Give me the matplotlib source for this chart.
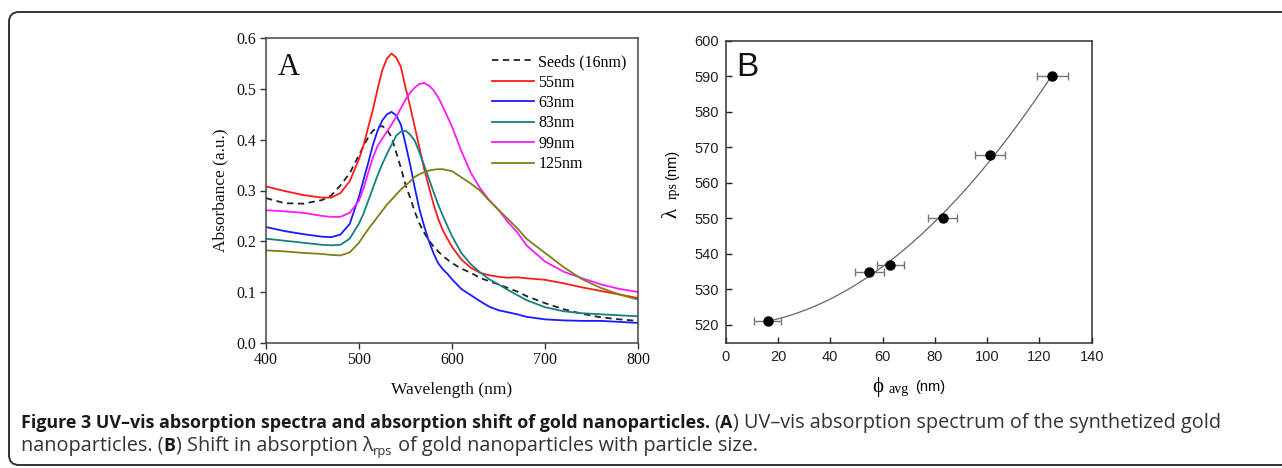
import numpy as np
import matplotlib
matplotlib.use("Agg")
import matplotlib.pyplot as plt
from matplotlib.patches import FancyBboxPatch
from matplotlib.transforms import IdentityTransform

# ---------------- data: panel A (UV-vis spectra) ----------------
wavelength = [400, 420, 440, 460, 470, 480, 490, 500, 505, 510, 515, 520, 525, 530,
              535, 540, 545, 550, 555, 560, 565, 570, 575, 580, 585, 590, 595, 600,
              610, 620, 630, 640, 650, 660, 670, 680, 700, 720, 740, 760, 780, 800]

seeds_16 = [0.285, 0.275, 0.274, 0.281, 0.290, 0.310, 0.334, 0.370, 0.388, 0.405, 0.418,
            0.425, 0.427, 0.420, 0.405, 0.375, 0.345, 0.311, 0.286, 0.258, 0.235, 0.217,
            0.202, 0.190, 0.180, 0.171, 0.164, 0.157, 0.146, 0.138, 0.128, 0.121, 0.115,
            0.108, 0.101, 0.092, 0.078, 0.066, 0.057, 0.050, 0.046, 0.043]
np_55 = [0.308, 0.299, 0.291, 0.286, 0.286, 0.295, 0.318, 0.362, 0.390, 0.425, 0.460,
         0.500, 0.537, 0.560, 0.570, 0.562, 0.544, 0.503, 0.466, 0.425, 0.384, 0.343,
         0.308, 0.274, 0.245, 0.222, 0.205, 0.189, 0.164, 0.148, 0.138, 0.133, 0.130,
         0.128, 0.129, 0.127, 0.124, 0.117, 0.109, 0.102, 0.095, 0.088]
np_63 = [0.228, 0.220, 0.214, 0.209, 0.208, 0.213, 0.234, 0.288, 0.322, 0.355, 0.390,
         0.418, 0.438, 0.450, 0.455, 0.448, 0.430, 0.392, 0.351, 0.305, 0.263, 0.230,
         0.201, 0.177, 0.157, 0.145, 0.136, 0.125, 0.106, 0.094, 0.082, 0.071, 0.064,
         0.060, 0.056, 0.051, 0.046, 0.044, 0.043, 0.043, 0.041, 0.039]
np_83 = [0.205, 0.201, 0.197, 0.193, 0.192, 0.193, 0.205, 0.235, 0.255, 0.280, 0.305,
         0.330, 0.352, 0.372, 0.390, 0.408, 0.416, 0.418, 0.410, 0.398, 0.375, 0.350,
         0.324, 0.298, 0.273, 0.251, 0.230, 0.210, 0.177, 0.155, 0.139, 0.125, 0.115,
         0.104, 0.094, 0.084, 0.070, 0.062, 0.058, 0.056, 0.054, 0.052]
np_99 = [0.261, 0.259, 0.256, 0.250, 0.248, 0.248, 0.256, 0.280, 0.305, 0.336, 0.365,
         0.388, 0.402, 0.416, 0.430, 0.445, 0.462, 0.479, 0.493, 0.503, 0.510, 0.512,
         0.507, 0.498, 0.484, 0.466, 0.446, 0.426, 0.378, 0.336, 0.305, 0.281, 0.262,
         0.238, 0.218, 0.192, 0.160, 0.140, 0.127, 0.115, 0.106, 0.100]
np_125 = [0.182, 0.180, 0.177, 0.175, 0.173, 0.172, 0.178, 0.197, 0.211, 0.224, 0.236,
          0.248, 0.260, 0.272, 0.282, 0.292, 0.302, 0.310, 0.318, 0.327, 0.332, 0.336,
          0.339, 0.341, 0.342, 0.342, 0.340, 0.338, 0.326, 0.314, 0.300, 0.280, 0.262,
          0.244, 0.226, 0.205, 0.177, 0.149, 0.125, 0.108, 0.095, 0.085]

series_labels = ["Seeds (16nm)", "55nm", "63nm", "83nm", "99nm", "125nm"]
series_colors = ["#222222", "#ff1a1a", "#1a1aff", "#158080", "#ff1aff", "#808012"]

# ---------------- data: panel B (peak shift vs size) ----------------
size_avg = [16, 55, 63, 83, 101, 125]
lambda_rps = [521, 535, 537, 550, 568, 590]
size_err = [5.2, 5.5, 5.3, 5.5, 5.8, 6.0]

W, H = 1282, 468
fig = plt.figure(figsize=(W / 100, H / 100), dpi=100)
fig.patch.set_facecolor("white")


def px(x, y):
    return x / W, 1 - y / H


serif = ["Liberation Serif", "DejaVu Serif"]
sans = ["Liberation Sans", "DejaVu Sans"]

# ---------------- panel A ----------------
axA = fig.add_axes([266 / W, 1 - 342.7 / H, 372 / W, 304.4 / H])
all_series = [seeds_16, np_55, np_63, np_83, np_99, np_125]
for i, (vals, lab, col) in enumerate(zip(all_series, series_labels, series_colors)):
    ls = (0, (3.5, 2.5)) if i == 0 else "-"
    axA.plot(wavelength, vals, color=col, lw=1.3, ls=ls, label=lab,
             solid_joinstyle="round")
axA.set_xlim(400, 800)
axA.set_ylim(0, 0.6)
axA.set_xticks([400, 500, 600, 700, 800])
axA.set_yticks([0.0, 0.1, 0.2, 0.3, 0.4, 0.5, 0.6])
axA.set_yticklabels([f"{v:.1f}" for v in [0.0, 0.1, 0.2, 0.3, 0.4, 0.5, 0.6]])
axA.tick_params(direction="out", length=4, width=1, colors="#333333", labelsize=11.5,
                labelcolor="#111111", pad=3)
for lab in axA.get_xticklabels() + axA.get_yticklabels():
    lab.set_family(serif)
for sp in axA.spines.values():
    sp.set_color("#444444")
    sp.set_linewidth(1.1)
axA.set_xlabel("Wavelength (nm)", family=serif, fontsize=12.5, labelpad=10, color="#111111")
axA.set_ylabel("Absorbance (a.u.)", family=serif, fontsize=12.5, labelpad=6, color="#111111")
leg = axA.legend(loc="upper right", frameon=False, prop={"family": serif, "size": 11.5},
                 handlelength=2.6, handletextpad=0.3, labelspacing=0.28,
                 borderaxespad=0.3, bbox_to_anchor=(1.0, 0.985))
axA.text(0.06, 0.905, "A", transform=axA.transAxes, family=serif, fontsize=22,
         ha="center", va="center", color="#111111")

# ---------------- panel B ----------------
axB = fig.add_axes([725.7 / W, 1 - 342.7 / H, 366 / W, 301.7 / H])
coef = np.polyfit(size_avg, lambda_rps, 2)
xf = np.linspace(min(size_avg), max(size_avg), 200)
axB.plot(xf, np.polyval(coef, xf), color="#666666", lw=0.9, zorder=2)
axB.errorbar(size_avg, lambda_rps, xerr=size_err, fmt="o", color="black", ms=6.5,
             ecolor="#777777", elinewidth=1.0, capsize=3, capthick=1.0, zorder=3)
axB.set_xlim(0, 140)
axB.set_ylim(515, 600)
axB.set_xticks(range(0, 141, 20))
axB.set_yticks(range(520, 601, 10))
axB.tick_params(direction="in", length=4, width=1, labelsize=10.5, colors="#222222", pad=5)
for lab in axB.get_xticklabels() + axB.get_yticklabels():
    lab.set_family(sans)
for sp in axB.spines.values():
    sp.set_color("#333333")
    sp.set_linewidth(1.1)
axB.text(0.058, 0.912, "B", transform=axB.transAxes, family=sans, fontsize=24,
         ha="center", va="center", color="#111111")

# composite axis labels for B
fig.text(*px(672, 213), "λ", family=serif, fontsize=15, rotation=90, ha="center", va="center")
fig.text(*px(673, 191), "rps", family=serif, fontsize=10, rotation=90, ha="center", va="center")
fig.text(*px(672, 165), "(nm)", family=sans, fontsize=10.5, rotation=90, ha="center", va="center")
fig.text(*px(878, 387), "ϕ", family=serif, fontsize=15, ha="center", va="center")
fig.text(*px(899, 389), "avg", family=serif, fontsize=10, ha="center", va="center")
fig.text(*px(930, 387), "(nm)", family=sans, fontsize=10.5, ha="center", va="center")

# ---------------- border ----------------
border = FancyBboxPatch((9, 3), 1400, 453, boxstyle="round,pad=0,rounding_size=10",
                        transform=IdentityTransform(), fill=False, ec="#333333", lw=1.4)
fig.patches.append(border)

# ---------------- caption ----------------
cap_family = ["Open Sans", "DejaVu Sans"]
bold_size = 12.9
reg_size = 14.3
fig.canvas.draw()
renderer = fig.canvas.get_renderer()


def write_line(pieces, x0, y0):
    x = x0
    for txt, weight, size, dy in pieces:
        t = fig.text(x / W, 1 - (y0 + dy) / H, txt, family=cap_family, fontsize=size,
                     fontweight=weight, ha="left", va="baseline",
                     color="#1a1a1a" if weight == "bold" else "#333333")
        bb = t.get_window_extent(renderer=renderer)
        x += bb.width
    return x


line1 = [("Figure 3 UV–vis absorption spectra and absorption shift of gold nanoparticles. ", "bold", bold_size, 0),
         ("(", "normal", reg_size, 0), ("A", "bold", bold_size, 0),
         (") UV–vis absorption spectrum of the synthetized gold", "normal", reg_size, 0)]
line2 = [("nanoparticles. (", "normal", reg_size, 0), ("B", "bold", bold_size, 0),
         (") Shift in absorption λ", "normal", reg_size, 0), ("rps", "normal", reg_size * 0.65, 4),
         (" of gold nanoparticles with particle size.", "normal", reg_size, 0)]
write_line(line1, 21, 428)
write_line(line2, 21, 451)

fig.savefig("out.png", dpi=100, facecolor="white")
